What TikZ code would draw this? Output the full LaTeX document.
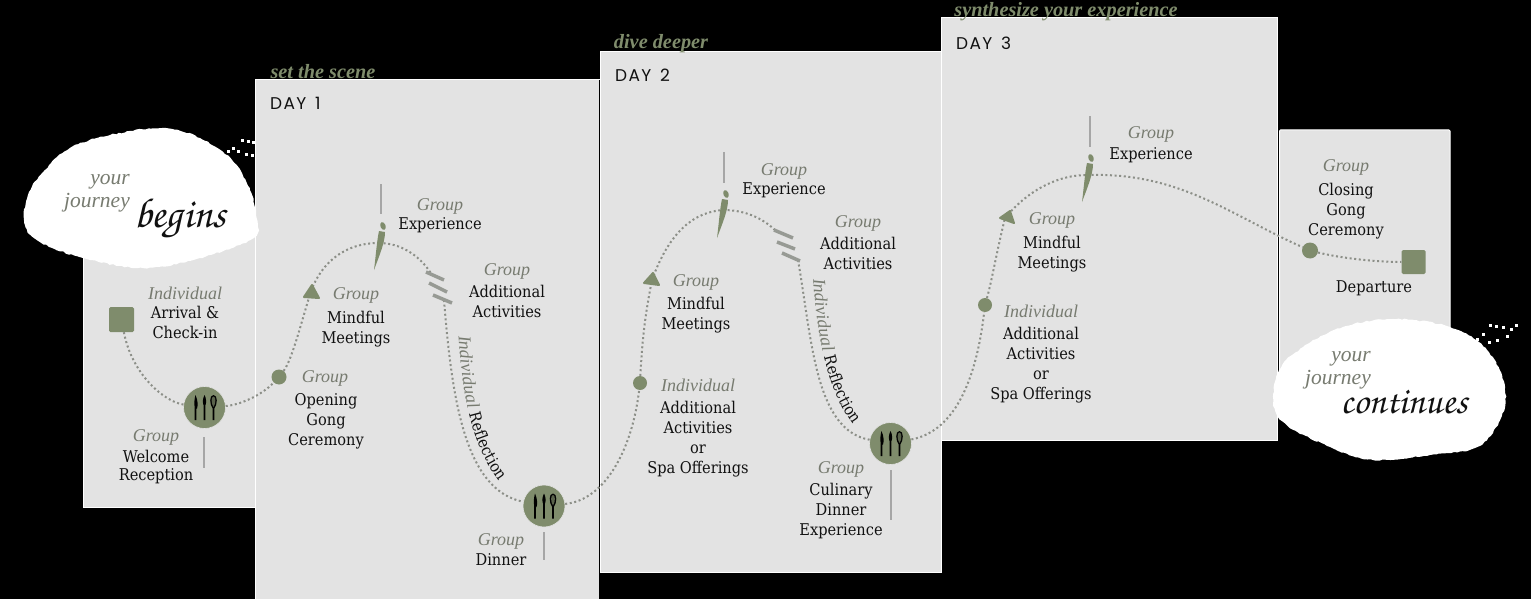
\documentclass[tikz,border=0pt]{standalone}
\usepackage{fontspec}
\setmainfont{DejaVu Serif Condensed}
\newfontfamily\grpfont{Liberation Serif}
\newfontfamily\dayfont[LetterSpace=8]{Poppins}
\newcommand{\scriptface}{\usefont{OT1}{pzc}{mb}{it}}
\usetikzlibrary{decorations.text,decorations.pathmorphing,calc}
\definecolor{panelgrey}{HTML}{E3E3E3}
\definecolor{sage}{HTML}{7F8C6C}
\definecolor{lbl}{HTML}{777B70}
\definecolor{routeg}{HTML}{8C8F88}
\definecolor{ink}{HTML}{111111}
\newcommand{\lblg}[1]{{\grpfont\fontsize{18}{20}\selectfont\itshape\color{lbl}#1}}
\tikzset{
  x=1pt,y=-1pt,
  panel/.style={fill=panelgrey,draw=white,line width=1pt},
  route/.style={draw=routeg,line width=2pt,dash pattern=on 2pt off 2.6pt},
  txt/.style={inner sep=0pt,align=center,text=ink,yshift=-1pt,font=\fontsize{16.2}{20}\selectfont},
  multi/.style={txt,anchor=north,yshift=-2pt},
  tag/.style={inner sep=0pt,align=center,yshift=-1.5pt},
  daylabel/.style={inner sep=0pt,anchor=west,text=ink,font=\dayfont\fontsize{17}{18}\selectfont},
  head/.style={inner sep=0pt,text=sage,font=\grpfont\bfseries\itshape\fontsize{20.3}{20}\selectfont},
  dotm/.style={circle,fill=sage,minimum size=15pt,inner sep=0pt},
  squarem/.style={rectangle,rounded corners=1.5pt,fill=sage,minimum size=25pt,inner sep=0pt},
  foodm/.style={circle,fill=sage,draw=panelgrey,line width=.6pt,minimum size=42pt,inner sep=0pt},
  stem/.style={draw=black!35,line width=1.3pt},
  barm/.style={draw=routeg!90!white,line width=3.5pt},
  blob/.style={fill=white,decorate,decoration={random steps,segment length=3pt,amplitude=.7pt}},
  script/.style={inner sep=0pt,text=ink,font=\scriptface\fontsize{42}{42}\selectfont},
  soft/.style={inner sep=0pt,align=right,anchor=east,yshift=-3pt,font=\grpfont\itshape\fontsize{21.5}{21}\selectfont,text=lbl},
  pics/utensils/.style={code={
    \fill[black] (-9,-12.5) .. controls (-6.5,-7) and (-6.5,-2) .. (-7.5,1) -- (-8.2,1) -- (-8.2,12.5) -- (-9.8,12.5) -- (-9.8,0) .. controls (-10.6,-4) and (-10,-9) .. (-9,-12.5) -- cycle;
    \fill[black] (0,-12.5) .. controls (2,-9) and (2,-4) .. (.8,-2) -- (.8,12.5) -- (-.8,12.5) -- (-.8,-2) .. controls (-2,-4) and (-2,-9) .. (0,-12.5) -- cycle;
    \fill[black] (9,-12.5) .. controls (13.5,-12.5) and (13,-3) .. (9.8,1) -- (9.8,12.5) -- (8.2,12.5) -- (8.2,1) .. controls (5,-3) and (4.5,-12.5) .. (9,-12.5) -- cycle;
    \fill[sage!70!black] (9,-11) .. controls (11.5,-11) and (11.5,-4) .. (9,-.5) .. controls (6.5,-4) and (6.5,-11) .. (9,-11) -- cycle;
  }}
}
\begin{document}
\begin{tikzpicture}
\useasboundingbox (0,0) rectangle (1531,599);
\fill[black] (0,0) rectangle (1531,599);
% panels
\draw[panel] (83,225) rectangle (255.5,507.5);
\draw[panel] (255.5,80) rectangle (599.5,605);
\draw[panel] (600,52) rectangle (941,572.5);
\draw[panel] (941,18) rectangle (1277.5,440.5);
\draw[panel,rounded corners=1pt] (1279.5,130) rectangle (1450,400);
\draw[black,line width=1.2pt] (599.5,80) -- (599.5,599);
\draw[black,line width=1pt] (1278.5,130) -- (1278.5,375);
% headings
\node[head] (h1) at (323,72) {set the scene};
\node[head] (h2) at (661,44) {dive deeper};
\node[head] (h3) at (1066,12) {synthesize your experience};
% blobs
\pgfmathsetseed{7}
\path[blob] plot[smooth cycle,tension=.6] coordinates {(25,225) (28,195) (45,170) (70,148) (110,135) (163,128) (200,138) (232,160) (250,190) (256,215) (253,238) (200,258) (143,268) (83,258) (40,242)};
\path[blob] plot[smooth cycle,tension=.6] coordinates {(1393,319) (1450,327) (1487,350) (1505,387) (1500,420) (1477,447) (1430,455) (1373,460) (1330,447) (1278,417) (1278,373) (1303,347) (1343,327)};
\foreach \sx/\sy in {241/139,247/140,252/141,232/147,237/150,245/153,251/154,253/220,253/228,227/150,
  1489/324,1495/325,1502/326,1510/328,1506/335,1496/339,1488/341,1515/324,1482/333,1476/338}
  \fill[white] (\sx,\sy) rectangle ++(3,3);
% markers
\node[squarem] (sqa) at (121.5,319.5) {};
\node[foodm] (fa) at (204.5,407.5) {};
\node[dotm] (da) at (279,377) {};
\coordinate (ta) at (311,291);
\coordinate (ia) at (379,243);
\coordinate (ba) at (432,275);
\coordinate (bb) at (444,300);
\node[foodm] (fb) at (544,506) {};
\node[dotm,minimum size=14pt] (db) at (640,383) {};
\coordinate (tb) at (652,280);
\coordinate (ib) at (723,210);
\coordinate (bc) at (775,230);
\coordinate (bd) at (798,260);
\node[foodm] (fc) at (890.5,443.5) {};
\node[dotm,minimum size=14pt] (dc) at (985,305) {};
\coordinate (tc) at (1005,218);
\coordinate (ic) at (1087,175);
\node[dotm,minimum size=16pt] (dd) at (1310,250.5) {};
\node[squarem,minimum size=24pt] (sqb) at (1413.5,262) {};
% route
\draw[route] (sqa) .. controls (132,375) and (165,402) .. (fa);
\draw[route] (fa) .. controls (240,405) and (262,395) .. (da);
\draw[route] (da) .. controls (292,360) and (302,320) .. (ta);
\draw[route] (ta) .. controls (322,262) and (345,243) .. (ia);
\draw[route] (ia) .. controls (400,243) and (420,255) .. (ba);
\draw[route] (bb) .. controls (452,400) and (465,490) .. (fb);
\draw[route] (fb) .. controls (605,500) and (632,450) .. (db);
\draw[route] (db) .. controls (642,345) and (644,320) .. (tb);
\draw[route] (tb) .. controls (670,230) and (695,212) .. (ib);
\draw[route] (ib) .. controls (745,210) and (762,218) .. (bc);
\draw[route] (bd) .. controls (812,340) and (815,430) .. (fc);
\draw[route] (fc) .. controls (950,432) and (975,390) .. (dc);
\draw[route] (dc) .. controls (992,280) and (997,250) .. (tc);
\draw[route] (tc) .. controls (1030,188) and (1060,175) .. (ic);
\draw[route] (ic) .. controls (1180,172) and (1230,215) .. (dd);
\draw[route] (dd) .. controls (1340,258) and (1375,262) .. (sqb);
% utensils
\pic at (fa) {utensils};
\pic at (fb) {utensils};
\pic at (fc) {utensils};
% triangles
\fill[sage,draw=sage,line width=2pt,line join=round] (304,297) -- (312,285) -- (319,298) -- cycle;
\fill[sage,draw=sage,line width=2pt,line join=round] (644,283) -- (653,273) -- (659,285) -- cycle;
\fill[sage,draw=sage,line width=2pt,line join=round] (1000,218) -- (1010,211) -- (1014,223) -- cycle;
% exclamation marks
\foreach \ex/\ey in {382/232, 725/200, 1090/164}{
  \fill[sage] (\ex+3,\ey) .. controls (\ex+3,\ey+10) and (\ex-2,\ey+22) .. (\ex-8,\ey+38) .. controls (\ex-6,\ey+22) and (\ex-5,\ey+8) .. (\ex-3,\ey-1) -- cycle;
  \fill[sage,rotate around={20:(\ex+1,\ey-6)}] (\ex+1,\ey-6) ellipse (2.6 and 4);
}
% stems
\draw[stem] (381,184) -- (381,214);
\draw[stem] (724,152) -- (724,183);
\draw[stem] (1090,116) -- (1090,147);
\draw[stem] (204,437) -- (204,468);
\draw[stem] (544,532) -- (544,560);
\draw[stem] (891,470) -- (891,520);
% bars
\draw[barm] (426,272) -- (444,280); \draw[barm] (429,283) -- (447,292); \draw[barm] (433,295) -- (452,303);
\draw[barm] (774,230) -- (793,238); \draw[barm] (777,242) -- (795,249); \draw[barm] (782,253) -- (800,261);
% curved labels
\path[decorate,decoration={text along path,text align=left,text={|\grpfont\itshape\fontsize{18}{18}\selectfont\color{lbl}|Individual{ }|\fontsize{16}{16}\selectfont\rmfamily\color{ink}|Reflection}}]
  (458.5,336) .. controls (462,390) and (470,450) .. (506,490);
\path[decorate,decoration={text along path,text align=left,text={|\grpfont\itshape\fontsize{18}{18}\selectfont\color{lbl}|Individual{ }|\fontsize{16}{16}\selectfont\rmfamily\color{ink}|Reflection}}]
  (813,279) .. controls (817,330) and (825,395) .. (860,433);
% day labels
\node[daylabel] (d1) at (270,103) {DAY\, 1};
\node[daylabel] (d2) at (615,75) {DAY\, 2};
\node[daylabel] (d3) at (956,43) {DAY\, 3};
% labels
\node[tag] (a1) at (185,292) {\lblg{Individual}};
\node[multi] (a2) at (185,303) {Arrival \&\\Check-in};
\node[tag] (b1) at (156,436) {\lblg{Group}};
\node[multi,font=\fontsize{16.2}{17.5}\selectfont] (b2) at (156,447) {Welcome\\Reception};
\node[tag] (c1) at (325,377) {\lblg{Group}};
\node[multi] (c2) at (326,390) {Opening\\Gong\\Ceremony};
\node[tag] (e1) at (356,294) {\lblg{Group}};
\node[multi] (e2) at (356,308) {Mindful\\Meetings};
\node[tag] (f1) at (440,205) {\lblg{Group}};
\node[txt] (f2) at (440,224) {Experience};
\node[tag] (g1) at (507,270) {\lblg{Group}};
\node[multi] (g2) at (507,282) {Additional\\Activities};
\node[tag] (j1) at (501,540) {\lblg{Group}};
\node[txt] (j2) at (501,559) {Dinner};
\node[tag] (k1) at (696,281) {\lblg{Group}};
\node[multi] (k2) at (696,294) {Mindful\\Meetings};
\node[tag] (l1) at (698,384) {\lblg{Individual}};
\node[multi] (l2) at (698,398) {Additional\\Activities\\or\\Spa Offerings};
\node[tag] (m1) at (784,170) {\lblg{Group}};
\node[txt] (m2) at (784,189) {Experience};
\node[tag] (n1) at (858,222) {\lblg{Group}};
\node[multi] (n2) at (858,234) {Additional\\Activities};
\node[tag] (o1) at (841,468) {\lblg{Group}};
\node[multi] (o2) at (841,480) {Culinary\\Dinner\\Experience};
\node[tag] (p1) at (1151,133) {\lblg{Group}};
\node[txt] (p2) at (1151,154) {Experience};
\node[tag] (q1) at (1052,219) {\lblg{Group}};
\node[multi] (q2) at (1052,233) {Mindful\\Meetings};
\node[tag] (r1) at (1041,310) {\lblg{Individual}};
\node[multi] (r2) at (1041,324) {Additional\\Activities\\or\\Spa Offerings};
\node[tag] (s1) at (1346,166) {\lblg{Group}};
\node[multi] (s2) at (1346,180) {Closing\\Gong\\Ceremony};
\node[txt] (t2) at (1374,287) {Departure};
% blob text
\node[soft] (y1) at (130,179) {your};
\node[soft] (y2) at (130,200) {journey};
\node[script] (y3) at (180,219) {begins};
\node[soft] (z1) at (1371,356) {your};
\node[soft] (z2) at (1371,377) {journey};
\node[script,font=\scriptface\fontsize{38}{38}\selectfont] (z3) at (1404,402) {continues};
\end{tikzpicture}
\end{document}
